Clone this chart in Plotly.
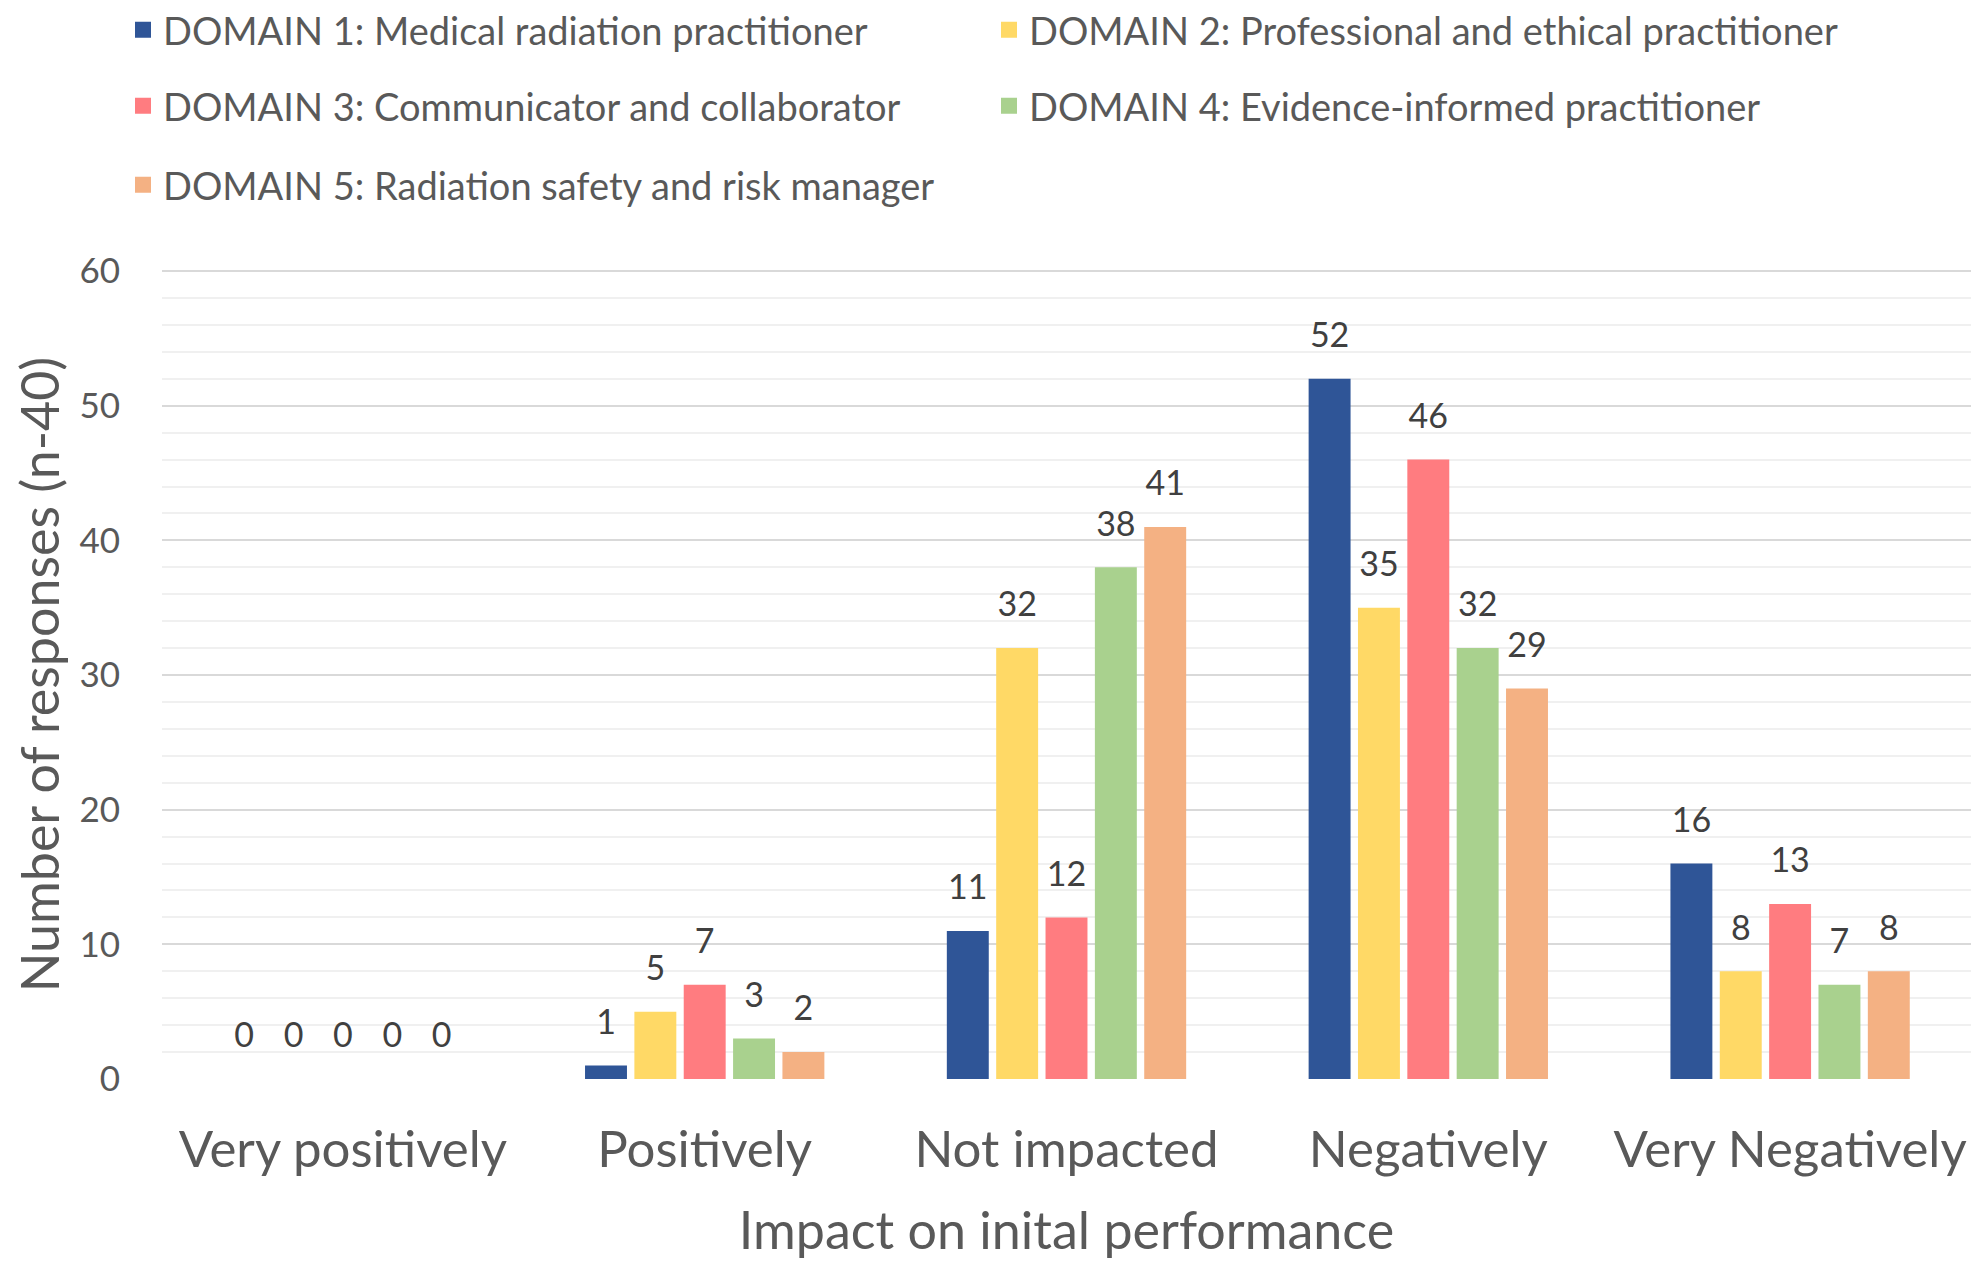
import plotly.graph_objects as go

# survey: impact on initial performance, per domain
categories = ["Very positively", "Positively", "Not impacted", "Negatively", "Very Negatively"]
domain_names = [
    "DOMAIN 1: Medical radiation practitioner",
    "DOMAIN 2: Professional and ethical practitioner",
    "DOMAIN 3: Communicator and collaborator",
    "DOMAIN 4: Evidence-informed practitioner",
    "DOMAIN 5: Radiation safety and risk manager",
]
domain1 = [0, 1, 11, 52, 16]
domain2 = [0, 5, 32, 35, 8]
domain3 = [0, 7, 12, 46, 13]
domain4 = [0, 3, 38, 32, 7]
domain5 = [0, 2, 41, 29, 8]
colors = ["#2F5597", "#FFD966", "#FF7C80", "#A9D18E", "#F4B183"]

FONT = "Lato"
GREY = "#595959"
W, H = 1976, 1263  # page has an 8px body margin

# which legend box (row) each domain goes into
legend_ids = ["legend", "legend", "legend2", "legend2", "legend3"]

fig = go.Figure()
for name, vals, col, lg in zip(domain_names, [domain1, domain2, domain3, domain4, domain5],
                               colors, legend_ids):
    fig.add_trace(go.Bar(
        x=categories, y=vals, name=name, showlegend=False,
        marker=dict(color=col, line=dict(width=0)),
        texttemplate="<span style='font-size:34px'>%{y}</span><br><span style='color:rgba(0,0,0,0)'>.</span>",
        textposition="outside", textangle=0, constraintext="none", cliponaxis=False,
        textfont=dict(family=FONT, size=19, color="#404040"),
    ))
    # legend-only entry so the swatch can be the size of the original
    fig.add_trace(go.Scatter(
        x=[None], y=[None], mode="markers", name=name, legend=lg,
        marker=dict(symbol="square", size=24, color=col),
    ))

leg = dict(orientation="h", xref="container", yref="container", xanchor="left",
           yanchor="middle", entrywidth=821, itemsizing="trace",
           font=dict(family=FONT, size=38, color=GREY), bgcolor="rgba(0,0,0,0)")

fig.update_layout(
    width=W, height=H,
    paper_bgcolor="white", plot_bgcolor="white",
    margin=dict(l=154, r=13, t=262, b=192),
    barmode="group", bargap=0.318, bargroupgap=0.15,
    font=dict(family=FONT, color=GREY),
    legend=dict(leg, x=0.0582, y=1 - 22 / H),
    legend2=dict(leg, x=0.0582, y=1 - 98 / H),
    legend3=dict(leg, x=0.0582, y=1 - 177 / H),
    xaxis=dict(
        title=dict(text="Impact on inital performance", font=dict(size=52, color=GREY), standoff=35),
        tickfont=dict(size=51, color=GREY), showline=False, ticks="", ticklabelstandoff=36,
        automargin=False,
    ),
    yaxis=dict(
        title=dict(text="Number of responses (n-40)", font=dict(size=52, color=GREY), standoff=30),
        range=[0, 60.08], dtick=10, tickfont=dict(size=35, color=GREY),
        showgrid=True, gridcolor="#D9D9D9", gridwidth=2, zeroline=False,
        ticklabelstandoff=41, automargin=False,
        minor=dict(dtick=2, showgrid=True, gridcolor="#F0F0F0", gridwidth=2),
    ),
)

fig.write_html("out.html")
